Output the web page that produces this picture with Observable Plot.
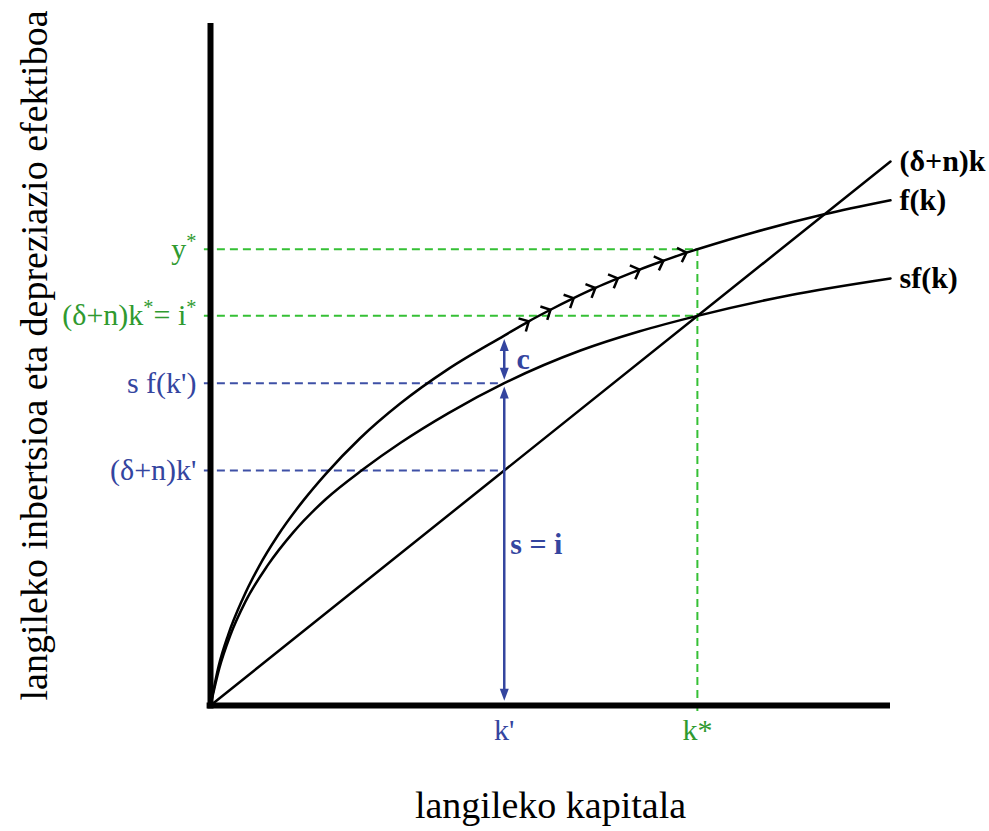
<!DOCTYPE html>
<html>
<head>
<meta charset="utf-8">
<script src="https://cdn.jsdelivr.net/npm/d3@7"></script>
<script src="https://cdn.jsdelivr.net/npm/@observablehq/plot@0.6"></script>
<style>
  html, body { margin: 0; padding: 0; background: #fff; overflow: hidden; }
  svg { display: block; }
</style>
</head>
<body>
<div id="chart"></div>
<script>
// Production per worker f(k), saving sf(k) and break-even investment (δ+n)k
const fK  = [0, 0.12, 0.26, 0.47, 0.71, 0.99, 1.37, 1.69, 2.2, 2.79, 3.5, 4.32, 4.68, 5.0, 5.34, 5.66, 5.99, 6.31, 6.66, 7.0, 7.16, 8.0, 9.01, 10];
const fY  = [0, 0.58, 1.04, 1.56, 2.04, 2.50, 3.02, 3.40, 3.93, 4.44, 4.95, 5.44, 5.65, 5.82, 5.99, 6.14, 6.28, 6.41, 6.54, 6.66, 6.71, 6.96, 7.22, 7.43];
const sfK = [0, 0.13, 0.29, 0.51, 0.84, 1.22, 1.69, 2.24, 2.79, 3.5, 4.32, 5.44, 6.3, 7.16, 8.5, 10];
const sfY = [0, 0.55, 1.03, 1.52, 2.06, 2.55, 3.03, 3.47, 3.86, 4.30, 4.74, 5.22, 5.50, 5.73, 6.03, 6.28];
const lineK = [0, 10];
const lineY = [0, 8.0];

// Capital levels marked on the horizontal axis
const kPrime = 4.32;
const kStar = 7.16;

// Points along f(k) where the convergence chevrons sit
const chevronK = [4.68, 5.0, 5.34, 5.66, 5.99, 6.31, 6.66, 7.0];

// Text
const curveLabels = ["(δ+n)k", "f(k)", "sf(k)"];
const xTitle = "langileko kapitala";
const yTitle = "langileko inbertsioa eta depreziazio efektiboa";

const green = "#2f9a2f", greenDash = "#35c035";
const blue = "#34459f", blueDash = "#3e50a6";
const serif = "'Liberation Serif', 'Times New Roman', serif";

// Derived levels, read from the series themselves
const fAt = (k) => fY[fK.indexOf(k)];
const sfAt = (k) => sfY[sfK.indexOf(k)];
const dn = lineY[1] / lineK[1];
const yStar = fAt(kStar);
const iStar = sfAt(kStar);
const fPrime = fAt(kPrime);
const sfPrime = sfAt(kPrime);
const linePrime = dn * kPrime;

const fData = fK.map((k, i) => ({k, v: fY[i]}));
const sfData = sfK.map((k, i) => ({k, v: sfY[i]}));
const lineData = lineK.map((k, i) => ({k, v: lineY[i]}));

// Both scales use the same pixels per unit, so the data slope gives the on-screen angle
const chevrons = chevronK.map((k) => {
  const i = fK.indexOf(k);
  const slope = (fY[i + 1] - fY[i - 1]) / (fK[i + 1] - fK[i - 1]);
  return {k, v: fY[i], rot: 90 - Math.atan(slope) * 180 / Math.PI};
});

// Open chevron, tip at the origin, pointing up
const chevronSymbol = {
  draw(ctx, size) {
    const r = Math.sqrt(size / Math.PI);
    ctx.moveTo(-r, r);
    ctx.lineTo(0, 0);
    ctx.lineTo(r, r);
  }
};
// Slim filled arrowhead, tip at the origin, pointing up
const headSymbol = {
  draw(ctx, size) {
    const r = Math.sqrt(size / Math.PI);
    ctx.moveTo(0, 0);
    ctx.lineTo(-0.75 * r, 2 * r);
    ctx.lineTo(0.75 * r, 2 * r);
    ctx.closePath();
  }
};

// Blue double arrows at k'
const gap = 0.05;
const cTop = fPrime - gap, cBottom = sfPrime + gap;
const sTop = sfPrime - gap, sBottom = 0.07;
const heads = [
  {v: cTop, rot: 0}, {v: cBottom, rot: 180},
  {v: sTop, rot: 0}, {v: sBottom, rot: 180}
];

const chart = Plot.plot({
  width: 989,
  height: 831,
  marginLeft: 210,
  marginRight: 99,
  marginTop: 25,
  marginBottom: 126,
  x: {domain: [0, 10], axis: null},
  y: {domain: [0, 10], axis: null},
  style: {background: "#fff", fontFamily: serif, overflow: "visible"},
  marks: [
    // guide lines
    Plot.ruleY([yStar, iStar], {x1: -0.09, x2: kStar, stroke: greenDash, strokeWidth: 2, strokeDasharray: "8,5"}),
    Plot.ruleX([kStar], {y1: -0.09, y2: yStar, stroke: greenDash, strokeWidth: 2, strokeDasharray: "8,5"}),
    Plot.ruleY([sfPrime, linePrime], {x1: -0.09, x2: kPrime, stroke: blueDash, strokeWidth: 2, strokeDasharray: "8,5"}),

    // curves
    Plot.line(fData, {x: "k", y: "v", curve: "monotone-x", stroke: "#000", strokeWidth: 2.5}),
    Plot.line(sfData, {x: "k", y: "v", curve: "monotone-x", stroke: "#000", strokeWidth: 2.5}),
    Plot.line(lineData, {x: "k", y: "v", stroke: "#000", strokeWidth: 2.5}),

    // chevrons along f(k)
    Plot.dot(chevrons, {x: "k", y: "v", rotate: "rot", symbol: chevronSymbol, r: 7.5, fill: "none", stroke: "#000", strokeWidth: 2.5, strokeLinejoin: "miter"}),

    // axes
    Plot.ruleX([0], {y1: -0.05, y2: 10.03, stroke: "#000", strokeWidth: 6}),
    Plot.ruleY([0], {x1: -0.05, x2: 10, stroke: "#000", strokeWidth: 6}),

    // c and s = i arrows
    Plot.ruleX([kPrime], {y1: cBottom + 0.1, y2: cTop - 0.1, stroke: blue, strokeWidth: 2.5}),
    Plot.ruleX([kPrime], {y1: sBottom + 0.1, y2: sTop - 0.1, stroke: blue, strokeWidth: 2.5}),
    Plot.dot(heads, {x: () => kPrime, y: "v", rotate: "rot", symbol: headSymbol, r: 6, fill: blue, stroke: "none"}),
    Plot.text(["c"], {x: kPrime, y: (fPrime + sfPrime) / 2, dx: 19, fill: blue, fontSize: 30, fontWeight: "bold"}),
    Plot.text(["s = i"], {x: kPrime, y: sfPrime / 2, dx: 6, textAnchor: "start", fill: blue, fontSize: 30, fontWeight: "bold"}),

    // curve names at the right end
    Plot.text([lineY[1], fY[fY.length - 1], sfY[sfY.length - 1]], {
      x: 10, y: (d) => d, text: (d, i) => curveLabels[i],
      dx: 9, textAnchor: "start", fontSize: 30, fontWeight: "bold", fill: "#000"
    }),

    // levels on the vertical axis
    Plot.text([yStar, iStar], {
      x: 0, y: (d) => d, text: ["y^*", "(δ+n)k^*= i^*"],
      dx: -14, textAnchor: "end", fontSize: 30, fill: green
    }),
    Plot.text([sfPrime, linePrime], {
      x: 0, y: (d) => d, text: ["s f(k')", "(δ+n)k'"],
      dx: -14, textAnchor: "end", fontSize: 30, fill: blue
    }),

    // capital levels on the horizontal axis
    Plot.text([kPrime], {x: (d) => d, frameAnchor: "bottom", text: ["k'"], dy: 34, fontSize: 30, fill: blue}),
    Plot.text([kStar], {x: (d) => d, frameAnchor: "bottom", text: ["k*"], dy: 34, fontSize: 30, fill: green}),

    // axis titles
    Plot.text([xTitle], {frameAnchor: "bottom", textAnchor: "middle", dy: 112, fontSize: 38, fill: "#000"}),
    Plot.text([yTitle], {frameAnchor: "left", textAnchor: "middle", rotate: -90, dx: -176, dy: -10, fontSize: 38, fill: "#000"})
  ]
});

// Turn "^x" into a raised, smaller character
const NS = "http://www.w3.org/2000/svg";
for (const t of chart.querySelectorAll("text")) {
  const s = t.textContent;
  if (!s.includes("^")) continue;
  const parts = s.split(/\^(.)/);
  t.textContent = "";
  const shift = 11;
  parts.forEach((p, i) => {
    if (p === "" && i % 2 === 0 && i === parts.length - 1) return;
    const ts = document.createElementNS(NS, "tspan");
    ts.textContent = p;
    if (i % 2 === 1) {
      ts.setAttribute("dy", -shift);
      ts.setAttribute("font-size", "68%");
    } else if (i > 0) {
      ts.setAttribute("dy", shift);
    }
    t.appendChild(ts);
  });
}

document.getElementById("chart").appendChild(chart);
</script>
</body>
</html>
